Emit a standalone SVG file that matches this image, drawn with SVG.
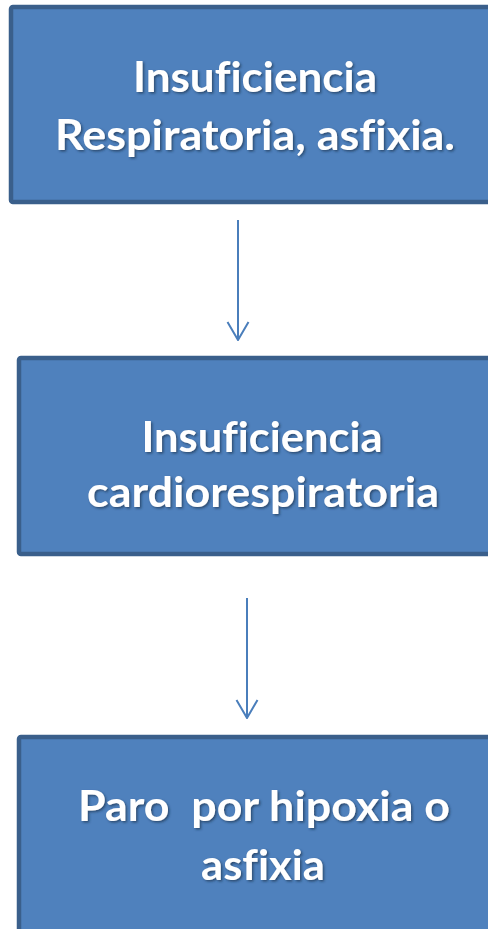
<svg xmlns="http://www.w3.org/2000/svg" width="488" height="929" viewBox="0 0 488 929">
<defs>
<style>
.box{fill:#4F81BD;stroke:#3A5F8B;stroke-width:4.5}
.t{font-family:Lato,"Open Sans","Liberation Sans",sans-serif;font-weight:bold;font-size:42px;fill:#FFFFFF;text-anchor:middle;font-variant-ligatures:none;font-feature-settings:"liga" 0;filter:url(#sh)}
.c{stroke:#4A7EBB;stroke-width:2;fill:none}
</style>
<filter id="sh" x="-10%" y="-30%" width="120%" height="160%">
<feDropShadow dx="1.5" dy="1.5" stdDeviation="1.2" flood-color="#1F3550" flood-opacity="0.7"/>
</filter>
<marker id="ah" viewBox="0 0 20 24" refX="19" refY="12" markerWidth="20" markerHeight="24" markerUnits="userSpaceOnUse" orient="auto">
<path d="M1 1.5 L19 12 L1 22.5" fill="none" stroke="#4A7EBB" stroke-width="2"/>
</marker>
</defs>
<g id="n1">
<rect class="box" x="11" y="7" width="490" height="195" rx="2"/>
<text class="t" x="255" y="92" textLength="244" lengthAdjust="spacingAndGlyphs">Insuficiencia</text>
<text class="t" x="255" y="150" textLength="400" lengthAdjust="spacingAndGlyphs">Respiratoria, asfixia.</text>
</g>
<g id="n2">
<rect class="box" x="19" y="358" width="490" height="196" rx="2"/>
<text class="t" x="262" y="452" textLength="241" lengthAdjust="spacingAndGlyphs">Insuficiencia</text>
<text class="t" x="263" y="507" textLength="352" lengthAdjust="spacingAndGlyphs">cardiorespiratoria</text>
</g>
<g id="n3">
<rect class="box" x="19" y="737" width="490" height="210" rx="2"/>
<text class="t" x="264" y="821" textLength="372" lengthAdjust="spacingAndGlyphs" xml:space="preserve">Paro  por hipoxia o</text>
<text class="t" x="263" y="880" textLength="124" lengthAdjust="spacingAndGlyphs">asfixia</text>
</g>
<g id="connectors">
<line class="c" x1="238" y1="220" x2="238" y2="340" marker-end="url(#ah)"/>
<line class="c" x1="247" y1="598" x2="247" y2="718" marker-end="url(#ah)"/>
</g>
</svg>
